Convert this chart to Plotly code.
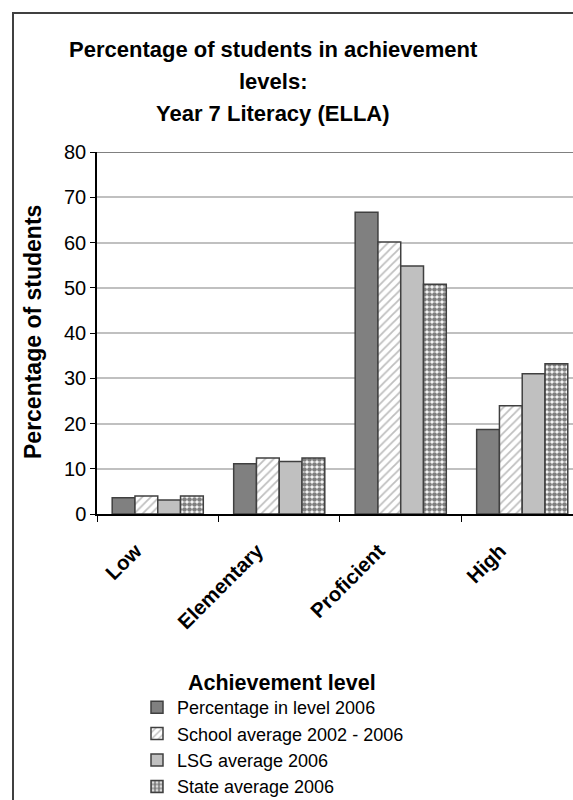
import plotly.graph_objects as go

# data
levels = ['Low', 'Elementary', 'Proficient', 'High']
series_names = ['Percentage in level 2006', 'School average 2002 - 2006',
                'LSG average 2006', 'State average 2006']
pct_2006 = [3.6, 11.1, 66.7, 18.7]
school_avg = [4.0, 12.4, 60.1, 23.9]
lsg_avg = [3.1, 11.6, 54.8, 31.0]
state_avg = [4.0, 12.4, 50.8, 33.2]

FONT = 'Arial, Liberation Sans, sans-serif'
W, H = 573, 800
L, T, B = 97, 152, 514   # plot area edges in px


def px_x(x):
    return (x - L) / (W - L)


def px_y(y):
    return (B - y) / (B - T)


styles = [
    dict(color='#808080'),
    dict(color='white', pattern=dict(shape='/', fgcolor='#808080', bgcolor='white',
                                     size=6, solidity=0.3)),
    dict(color='#C0C0C0'),
    dict(color='white', pattern=dict(shape='.', fgcolor='black', bgcolor='white',
                                     size=5, solidity=0.7)),
]

fig = go.Figure()
for name, vals, st in zip(series_names, [pct_2006, school_avg, lsg_avg, state_avg], styles):
    fig.add_trace(go.Bar(x=levels, y=vals, name=name,
                         marker=dict(**st, line=dict(color='#404040', width=1.5))))

fig.update_layout(
    width=W, height=H,
    margin=dict(l=L, r=0, t=T, b=H - B, autoexpand=False),
    barmode='group', bargap=0.25, bargroupgap=0,
    plot_bgcolor='white', paper_bgcolor='white',
    font=dict(family=FONT, size=20, color='black'),
    legend=dict(x=px_x(137), y=px_y(689), xanchor='left', yanchor='top',
                font=dict(size=18), tracegroupgap=0, itemwidth=30,
                bgcolor='rgba(0,0,0,0)'),
)

# the visible plot area is cut at the right edge, after 3.9 categories
fig.update_xaxes(
    range=[-0.5, 3.418],
    showline=True, linecolor='black', linewidth=1.5,
    ticks='outside', tickson='boundaries', ticklen=6, tickcolor='black',
    tickangle=-45, tickfont=dict(size=20.5, family=FONT),
    ticklabelshift=-22, ticklabelstandoff=15,
    showgrid=False,
)
fig.update_xaxes(ticktext=['<b>%s</b>' % c for c in levels], tickvals=levels)

fig.update_yaxes(
    range=[0, 80], dtick=10,
    showline=True, linecolor='black', linewidth=1.5,
    ticks='outside', ticklen=5, tickcolor='black',
    gridcolor='#C0C0C0', gridwidth=1.5,
    tickfont=dict(size=20), zeroline=False,
)

# title lines
for txt, yy in [('Percentage of students in achievement', 49), ('levels:', 81),
                ('Year 7 Literacy (ELLA)', 113)]:
    fig.add_annotation(text='<b>%s</b>' % txt, x=px_x(273), y=px_y(yy),
                       xref='paper', yref='paper', showarrow=False,
                       xanchor='center', yanchor='middle', font=dict(size=22))

fig.add_annotation(text='<b>Percentage of students</b>', textangle=-90,
                   x=px_x(33), y=px_y(332), xref='paper', yref='paper',
                   xanchor='center', yanchor='middle',
                   showarrow=False, font=dict(size=23))
fig.add_annotation(text='<b>Achievement level</b>', x=px_x(282), y=px_y(683),
                   xref='paper', yref='paper', xanchor='center', yanchor='middle',
                   showarrow=False, font=dict(size=21.5))

# top edge of plot area
fig.add_shape(type='line', xref='paper', yref='y', x0=0, x1=1, y0=80, y1=80,
              line=dict(color='#808080', width=2))
# chart border
fig.add_shape(type='rect', xref='paper', yref='paper',
              x0=px_x(13), x1=1.2, y0=-1.0, y1=px_y(13),
              line=dict(color='#404040', width=2), layer='below')

fig.write_html('out.html', config={'displayModeBar': False},
               post_script="document.body.style.margin='0';"
                           "document.body.style.overflow='hidden';")
